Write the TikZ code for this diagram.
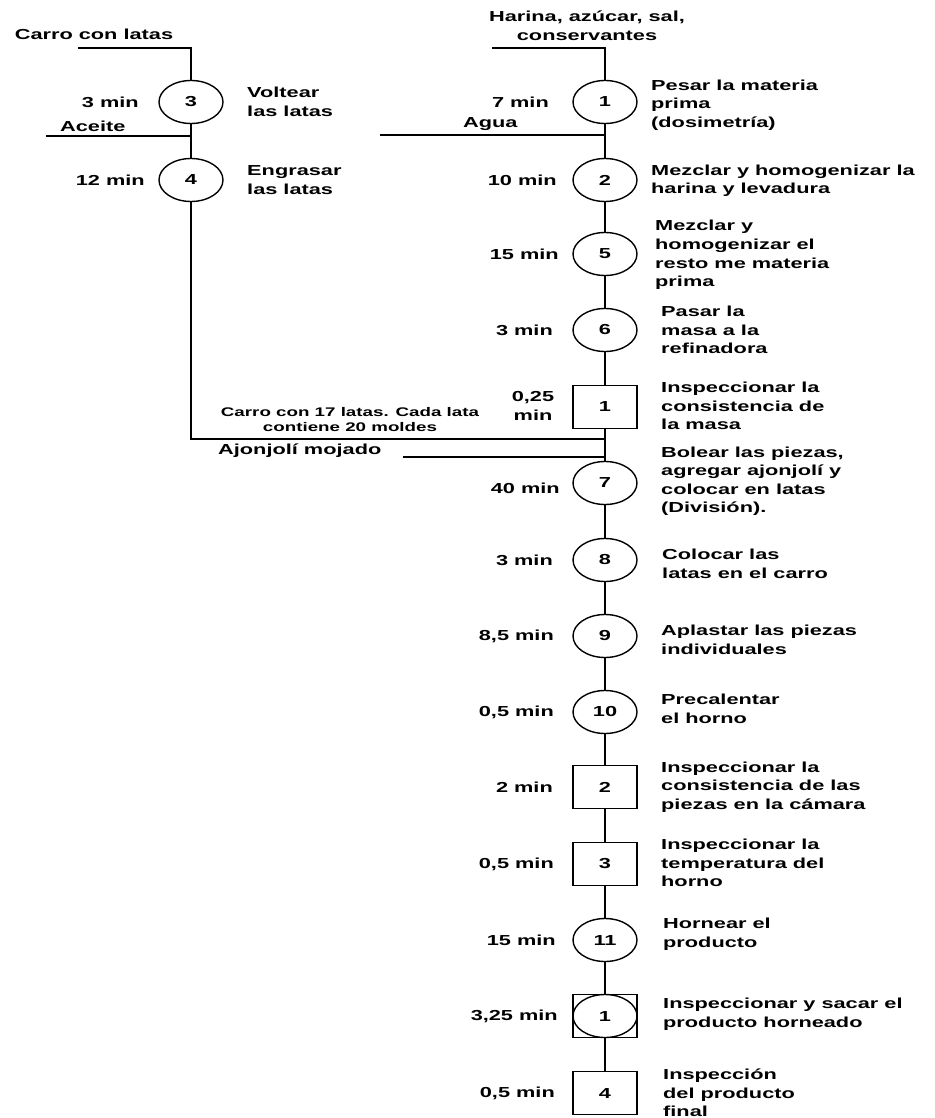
\documentclass[tikz,border=0pt]{standalone}
\usepackage{fontspec}
\setmainfont{Liberation Sans}[FakeStretch=1.5]
\usetikzlibrary{shapes.geometric}
\tikzset{
  txt/.style={inner sep=0pt, font=\fontsize{14.5}{18.5}\selectfont\bfseries},
  small/.style={inner sep=0pt, font=\fontsize{12.5}{15}\selectfont\bfseries},
  oper/.style={ellipse, draw, line width=1.4pt, minimum width=64pt, minimum height=43pt, inner sep=0pt, txt},
  insp/.style={rectangle, draw, line width=1.4pt, minimum width=64pt, minimum height=43pt, inner sep=0pt, txt},
  flow/.style={line width=1.1pt},
  desc/.style={txt, anchor=west, align=left},
  tlabel/.style={txt, anchor=east},
}
\begin{document}
\begin{tikzpicture}[x=1pt, y=-1pt]
\useasboundingbox (0,0) rectangle (934,1118);

% --- left branch: preparing the trays ---
\coordinate (cartIn) at (78,48);
\coordinate (cartTop) at (191,48);
\node[txt] (cartTxt) at (94,34) {Carro con latas};

\node[oper] (o3) at (191,102) {3};
\node[oper] (o4) at (191,180) {4};
\node[tlabel] (t3) at (139,102) {3 min};
\node[tlabel] (t4) at (145,180) {12 min};
\node[desc] (d3) at (247,102) {Voltear\\las latas};
\node[desc] (d4) at (247,180) {Engrasar\\las latas};

\coordinate (oilIn) at (46,136);
\coordinate (oilJ) at (191,136);
\node[txt, anchor=west] (oilTxt) at (60,126) {Aceite};

\coordinate (cartCorner) at (191,439);
\coordinate (cartJoin) at (605,439);
\node[small, align=center] (cartFull) at (350,420) {Carro con 17 latas. Cada lata\\contiene 20 moldes};

% --- main branch ---
\coordinate (flourIn) at (492,48);
\coordinate (flourTop) at (605,48);
\node[txt, align=center] (flourTxt) at (587,26) {Harina, azúcar, sal,\\conservantes};

\node[oper] (o1) at (605,102) {1};
\node[oper] (o2) at (605,180) {2};
\node[oper] (o5) at (605,254) {5};
\node[oper] (o6) at (605,330) {6};
\node[insp] (i1) at (605,407) {1};
\node[oper] (o7) at (605,483) {7};
\node[oper] (o8) at (605,560) {8};
\node[oper] (o9) at (605,636) {9};
\node[oper] (o10) at (605,712) {10};
\node[insp] (i2) at (605,787) {2};
\node[insp] (i3) at (605,864) {3};
\node[oper] (o11) at (605,940) {11};
\node[insp] (c1) at (605,1016) {};
\node[oper] (c1o) at (605,1016) {1};
\node[insp] (i4) at (605,1093) {4};

\coordinate (waterIn) at (380,135);
\coordinate (waterJ) at (605,135);
\node[txt, anchor=west] (waterTxt) at (463,124) {Agua};

\coordinate (sesameIn) at (403,457);
\coordinate (sesameJ) at (605,457);
\node[txt, anchor=west] (sesameTxt) at (218,451) {Ajonjolí mojado};

% times
\node[tlabel] (t1) at (549,102) {7 min};
\node[tlabel] (t2) at (557,180) {10 min};
\node[tlabel] (t5) at (559,254) {15 min};
\node[tlabel] (t6) at (553,330) {3 min};
\node[txt, align=center] (ti1) at (533,406) {0,25\\min};
\node[tlabel] (t7) at (560,488) {40 min};
\node[tlabel] (t8) at (553,560) {3 min};
\node[tlabel] (t9) at (554,636) {8,5 min};
\node[tlabel] (t10) at (554,712) {0,5 min};
\node[tlabel] (ti2) at (553,787) {2 min};
\node[tlabel] (ti3) at (554,864) {0,5 min};
\node[tlabel] (t11) at (556,940) {15 min};
\node[tlabel] (tc1) at (558,1016) {3,25 min};
\node[tlabel] (ti4) at (555,1093) {0,5 min};

% descriptions
\node[desc] (d1) at (651,105) {Pesar la materia\\prima\\(dosimetría)};
\node[desc] (d2) at (651,181) {Mezclar y homogenizar la\\harina y levadura};
\node[desc] (d5) at (655,255) {Mezclar y\\homogenizar el\\resto me materia\\prima};
\node[desc] (d6) at (661,330) {Pasar la\\masa a la\\refinadora};
\node[desc] (di1) at (661,406) {Inspeccionar la\\consistencia de\\la masa};
\node[desc] (d7) at (661,481) {Bolear las piezas,\\agregar ajonjolí y\\colocar en latas\\(División).};
\node[desc] (d8) at (662,564) {Colocar las\\latas en el carro};
\node[desc] (d9) at (661,640) {Aplastar las piezas\\individuales};
\node[desc] (d10) at (661,709) {Precalentar\\el horno};
\node[desc] (di2) at (661,787) {Inspeccionar la\\consistencia de las\\piezas en la cámara};
\node[desc] (di3) at (661,863) {Inspeccionar la\\temperatura del\\horno};
\node[desc] (d11) at (663,934) {Hornear el\\producto};
\node[desc] (dc1) at (663,1014) {Inspeccionar y sacar el\\producto horneado};
\node[desc] (di4) at (663,1093) {Inspección\\del producto\\final};

% connectors
\draw[flow] (cartIn) -- (cartTop) -- (o3);
\draw[flow] (o3) -- (o4);
\draw[flow] (oilIn) -- (oilJ);
\draw[flow] (o4) -- (cartCorner) -- (cartJoin);
\draw[flow] (flourIn) -- (flourTop) -- (o1);
\draw[flow] (waterIn) -- (waterJ);
\draw[flow] (sesameIn) -- (sesameJ);
\draw[flow] (o1) -- (o2) -- (o5) -- (o6) -- (i1) -- (o7) -- (o8) -- (o9) -- (o10) -- (i2) -- (i3) -- (o11) -- (c1) -- (i4);
\end{tikzpicture}
\end{document}
